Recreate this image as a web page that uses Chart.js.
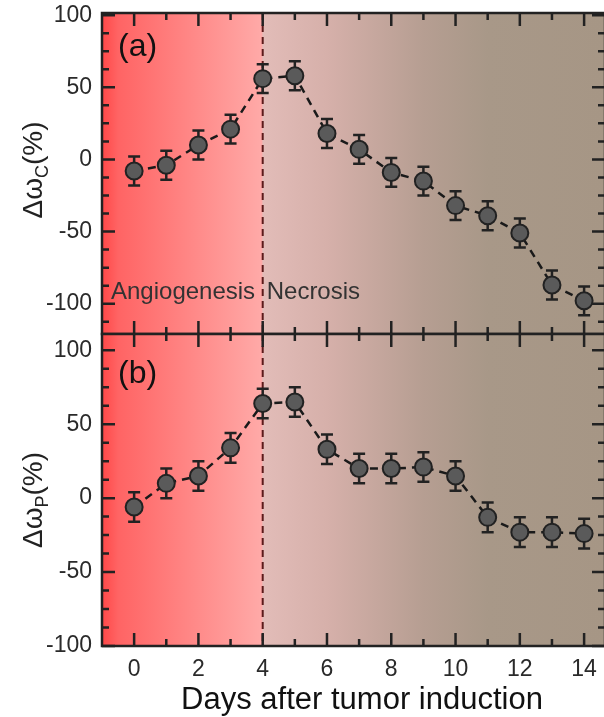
<!DOCTYPE html>
<html>
<head>
<meta charset="utf-8">
<script src="https://cdn.jsdelivr.net/npm/chart.js@4.4.1/dist/chart.umd.min.js"></script>
<style>
  html, body { margin: 0; padding: 0; background: #fff; overflow: hidden; }
  #wrap { position: relative; width: 604px; height: 717px; overflow: hidden; }
  #boxA { position: absolute; left: 0; top: 0; width: 610px; height: 336px; }
  #boxB { position: absolute; left: 0; top: 330px; width: 610px; height: 387px; }
</style>
</head>
<body>
<div id="wrap">
  <div id="boxA"><canvas id="chartA" width="610" height="336"></canvas></div>
  <div id="boxB"><canvas id="chartB" width="610" height="387"></canvas></div>
</div>
<script>
// datos
const days = [0, 1, 2, 3, 4, 5, 6, 7, 8, 9, 10, 11, 12, 13, 14];
const omegaC = [-8, -4, 10, 21, 56, 58, 18, 7, -9, -15, -32, -39, -51, -87, -98];
const omegaCErr = [10, 10, 10, 10, 10, 10, 10, 10, 10, 10, 10, 10, 10, 10, 10];
const omegaP = [-6, 10, 15, 34, 64, 65, 33, 20, 20, 21, 15, -13, -23, -23, -24];
const omegaPErr = [10, 10, 10, 10, 10, 10, 10, 10, 10, 10, 10, 10, 10, 10, 10];
const xTicks = [0, 2, 4, 6, 8, 10, 12, 14];
const yTicks = [-100, -50, 0, 50, 100];
const phaseBoundary = 4;

const FONT = "'Liberation Sans', Arial, sans-serif";
const INK = '#222';

// --- fondo degradado + linea punteada en el dia 4 ---
const bgPlugin = {
  id: 'bg',
  beforeDraw(chart) {
    const { ctx, chartArea: a, scales: { x } } = chart;
    const px = v => (x.getPixelForValue(v) - a.left) / (a.right - a.left);
    const g = ctx.createLinearGradient(a.left, 0, a.right, 0);
    g.addColorStop(0, '#ff4848');
    g.addColorStop(Math.max(0, px(-0.5)), '#ff6464');
    g.addColorStop(px(phaseBoundary) - 0.001, '#ffaaa8');
    g.addColorStop(px(phaseBoundary), '#e2bcb8');
    g.addColorStop(px(6), '#d6b0aa');
    g.addColorStop(px(9), '#b69e92');
    g.addColorStop(px(11), '#a89888');
    g.addColorStop(1, '#a69685');
    ctx.save();
    ctx.fillStyle = g;
    ctx.fillRect(a.left, a.top, a.right - a.left, a.bottom - a.top);
    // linea vertical
    const xb = x.getPixelForValue(phaseBoundary);
    ctx.strokeStyle = '#5c1a1a';
    ctx.lineWidth = 2;
    ctx.setLineDash([7, 5]);
    ctx.beginPath();
    ctx.moveTo(xb, a.top);
    ctx.lineTo(xb, a.bottom);
    ctx.stroke();
    ctx.restore();
  }
};

// --- barras de error (debajo de los marcadores) ---
const errPlugin = {
  id: 'errbars',
  beforeDatasetsDraw(chart, args, opts) {
    const { ctx, scales: { x, y } } = chart;
    const vals = opts.values, errs = opts.errors;
    ctx.save();
    ctx.strokeStyle = INK;
    ctx.lineWidth = 2.5;
    ctx.setLineDash([]);
    days.forEach((d, i) => {
      const px = x.getPixelForValue(d);
      const y1 = y.getPixelForValue(vals[i] + errs[i]);
      const y2 = y.getPixelForValue(vals[i] - errs[i]);
      ctx.beginPath();
      ctx.moveTo(px, y1); ctx.lineTo(px, y2);
      ctx.moveTo(px - 6, y1); ctx.lineTo(px + 6, y1);
      ctx.moveTo(px - 6, y2); ctx.lineTo(px + 6, y2);
      ctx.stroke();
    });
    ctx.restore();
  }
};

// --- marco, ticks hacia adentro y textos ---
const framePlugin = {
  id: 'frame',
  afterDraw(chart, args, opts) {
    const { ctx, chartArea: a, scales: { x, y } } = chart;
    ctx.save();
    ctx.strokeStyle = INK;
    ctx.setLineDash([]);
    ctx.lineWidth = 2.5;
    // ticks x (arriba y abajo)
    for (let d = 0; d <= 14; d++) {
      const px = x.getPixelForValue(d);
      const len = d % 2 === 0 ? 13 : 7;
      ctx.beginPath();
      ctx.moveTo(px, a.bottom); ctx.lineTo(px, a.bottom - len);
      ctx.moveTo(px, a.top); ctx.lineTo(px, a.top + len);
      ctx.stroke();
    }
    // ticks y (izquierda y derecha)
    for (let v = -200; v <= 200; v += 12.5) {
      if (v < y.min || v > y.max) continue;
      const py = y.getPixelForValue(v);
      const len = v % 50 === 0 ? 13 : 7;
      ctx.beginPath();
      ctx.moveTo(a.left, py); ctx.lineTo(a.left + len, py);
      ctx.moveTo(a.right, py); ctx.lineTo(a.right - len, py);
      ctx.stroke();
    }
    // marco
    ctx.lineWidth = 2.5;
    ctx.strokeRect(a.left, a.top, a.right - a.left, a.bottom - a.top);

    // etiqueta del panel
    ctx.fillStyle = '#111';
    ctx.font = '32px ' + FONT;
    ctx.textBaseline = 'middle';
    ctx.textAlign = 'left';
    ctx.fillText(opts.panel, 118, opts.panelY);

    // titulo del eje y con subindice
    ctx.translate(32, opts.titleY);
    ctx.rotate(-Math.PI / 2);
    ctx.fillStyle = '#222';
    const big = '28px ' + FONT, small = '18px ' + FONT;
    ctx.font = big;
    const w1 = ctx.measureText('\u0394\u03c9').width;
    const w3 = ctx.measureText('(%)').width;
    ctx.font = small;
    const w2 = ctx.measureText(opts.sub).width;
    let sx = -(w1 + w2 + w3) / 2;
    ctx.textBaseline = 'alphabetic';
    ctx.font = big;
    ctx.fillText('\u0394\u03c9', sx, 10);
    ctx.font = small;
    ctx.fillText(opts.sub, sx + w1, 16);
    ctx.font = big;
    ctx.fillText('(%)', sx + w1 + w2, 10);
    ctx.restore();

    if (opts.phases) {
      ctx.save();
      ctx.fillStyle = '#333';
      ctx.font = '24px ' + FONT;
      ctx.textBaseline = 'alphabetic';
      ctx.textAlign = 'left';
      ctx.fillText('Angiogenesis', 111, 299);
      ctx.fillText('Necrosis', x.getPixelForValue(phaseBoundary) + 4, 299);
      ctx.restore();
    }
    if (opts.xTitle) {
      ctx.save();
      ctx.fillStyle = '#111';
      ctx.font = '31px ' + FONT;
      ctx.textBaseline = 'alphabetic';
      ctx.textAlign = 'center';
      ctx.fillText(opts.xTitle, 362, 379);
      ctx.restore();
    }
  }
};

function makeDataset(vals) {
  return {
    data: days.map((d, i) => ({ x: d, y: vals[i] })),
    borderColor: '#1a1a1a',
    borderWidth: 2.5,
    borderDash: [8, 6],
    tension: 0,
    pointRadius: 8.5,
    pointBackgroundColor: '#5a5a5a',
    pointBorderColor: INK,
    pointBorderWidth: 2,
    fill: false
  };
}

function yScale(min, max) {
  return {
    type: 'linear', min: min, max: max,
    afterBuildTicks: s => { s.ticks = yTicks.map(v => ({ value: v })); },
    afterFit: s => { s.width = 102; s.paddingTop = 0; s.paddingBottom = 0; },
    grid: { display: false, drawTicks: false },
    border: { display: false },
    ticks: { padding: 10, color: '#2a2a2a', font: { family: FONT, size: 23 } }
  };
}

const common = {
  responsive: false,
  animation: false,
  plugins: { legend: { display: false }, tooltip: { enabled: false } }
};

// panel (a)
new Chart(document.getElementById('chartA'), {
  type: 'line',
  data: { datasets: [makeDataset(omegaC)] },
  options: {
    ...common,
    layout: { autoPadding: false, padding: { top: 13, bottom: 2, right: 5, left: 0 } },
    scales: {
      x: { type: 'linear', min: -1, max: 14.65, display: false },
      y: yScale(-121, 101.5)
    },
    plugins: {
      ...common.plugins,
      errbars: { values: omegaC, errors: omegaCErr },
      frame: { panel: '(a)', panelY: 47, sub: 'C', titleY: 170, phases: true }
    }
  },
  plugins: [bgPlugin, errPlugin, framePlugin]
});

// panel (b)
new Chart(document.getElementById('chartB'), {
  type: 'line',
  data: { datasets: [makeDataset(omegaP)] },
  options: {
    ...common,
    layout: { autoPadding: false, padding: { top: 4, bottom: 0, right: 5, left: 0 } },
    scales: {
      x: {
        type: 'linear', min: -1, max: 14.65,
        afterBuildTicks: s => { s.ticks = xTicks.map(v => ({ value: v })); },
        afterFit: s => { s.height = 71; s.paddingLeft = 0; s.paddingRight = 0; },
        grid: { display: false, drawTicks: false },
        border: { display: false },
        ticks: { padding: 10, maxRotation: 0, color: '#2a2a2a', font: { family: FONT, size: 23 } }
      },
      y: yScale(-100, 111)
    },
    plugins: {
      ...common.plugins,
      errbars: { values: omegaP, errors: omegaPErr },
      frame: { panel: '(b)', panelY: 44, sub: 'P', titleY: 170, xTitle: 'Days after tumor induction' }
    }
  },
  plugins: [bgPlugin, errPlugin, framePlugin]
});
</script>
</body>
</html>
